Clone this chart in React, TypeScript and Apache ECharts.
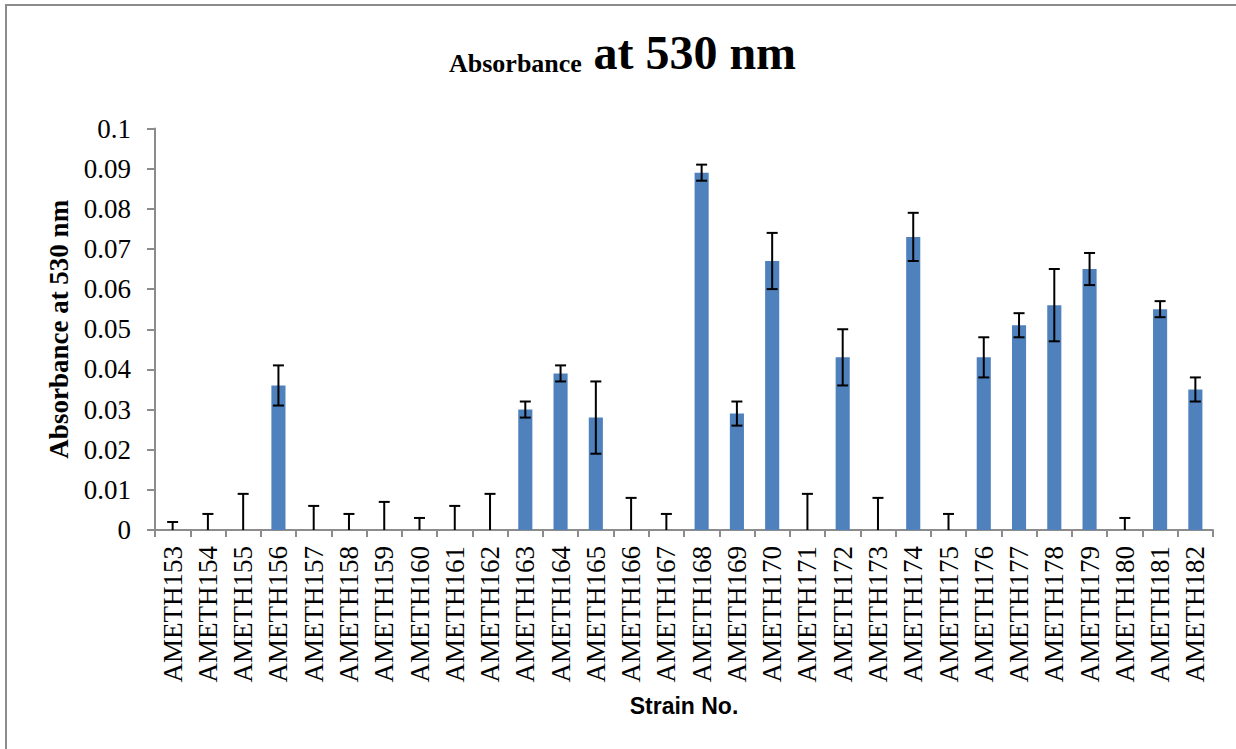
import React, { useEffect, useRef } from "react";
import * as echarts from "echarts";

const strains: string[] = [
  "AMETH153", "AMETH154", "AMETH155", "AMETH156", "AMETH157", "AMETH158",
  "AMETH159", "AMETH160", "AMETH161", "AMETH162", "AMETH163", "AMETH164",
  "AMETH165", "AMETH166", "AMETH167", "AMETH168", "AMETH169", "AMETH170",
  "AMETH171", "AMETH172", "AMETH173", "AMETH174", "AMETH175", "AMETH176",
  "AMETH177", "AMETH178", "AMETH179", "AMETH180", "AMETH181", "AMETH182",
];

const absorbance: number[] = [
  0, 0, 0, 0.036, 0, 0, 0, 0, 0, 0, 0.03, 0.039, 0.028, 0, 0, 0.089,
  0.029, 0.067, 0, 0.043, 0, 0.073, 0, 0.043, 0.051, 0.056, 0.065, 0, 0.055, 0.035,
];

const errors: number[] = [
  0.002, 0.004, 0.009, 0.005, 0.006, 0.004, 0.007, 0.003, 0.006, 0.009,
  0.002, 0.002, 0.009, 0.008, 0.004, 0.002, 0.003, 0.007, 0.009, 0.007,
  0.008, 0.006, 0.004, 0.005, 0.003, 0.009, 0.004, 0.003, 0.002, 0.003,
];

const yTicks = { min: 0, max: 0.1, interval: 0.01 };

const SERIF = "'Liberation Serif', 'Times New Roman', serif";

export default function App() {
  const ref = useRef<HTMLDivElement>(null);

  useEffect(() => {
    if (!ref.current) return;
    const chart = echarts.init(ref.current, undefined, { renderer: "svg" });

    const errData = absorbance.map((v, i) => [i, Math.max(0, v - errors[i]), v + errors[i], v]);

    chart.setOption({
      animation: false,
      backgroundColor: "#ffffff",
      graphic: [
        {
          type: "rect",
          z: -10,
          shape: { x: 6, y: 5, width: 1240, height: 760 },
          style: { fill: "none", stroke: "#8c8c8c", lineWidth: 2 },
        },
      ],
      title: {
        text: "{a|Absorbance}{s| }{b|at 530 nm}",
        left: 444,
        top: 21,
        textStyle: {
          fontFamily: SERIF,
          fontWeight: "bold",
          fontSize: 24,
          color: "#000",
          rich: {
            a: { fontFamily: SERIF, fontWeight: "bold", fontSize: 26, color: "#000", verticalAlign: "bottom", lineHeight: 50 },
            s: { fontFamily: SERIF, fontWeight: "bold", fontSize: 46, color: "#000", verticalAlign: "bottom", lineHeight: 50 },
            b: { fontFamily: SERIF, fontWeight: "bold", fontSize: 48, color: "#000", verticalAlign: "bottom", lineHeight: 50 },
          },
        },
      },
      grid: {
        left: 155,
        right: 23,
        top: 128.5,
        bottom: 219,
        containLabel: false,
        outerBoundsMode: "none",
      },
      xAxis: {
        type: "category",
        data: strains,
        name: "Strain No.",
        nameLocation: "middle",
        nameGap: 164,
        nameTextStyle: {
          fontFamily: "'Liberation Sans', Arial, sans-serif",
          fontWeight: "bold",
          fontSize: 23,
          color: "#000",
        },
        axisLine: { lineStyle: { color: "#8c8c8c", width: 2 } },
        axisTick: { show: true, length: 7, lineStyle: { color: "#8c8c8c", width: 2 } },
        axisLabel: {
          interval: 0,
          rotate: 90,
          margin: 16,
          fontFamily: SERIF,
          fontSize: 27,
          color: "#000",
        },
        splitLine: { show: false },
      },
      yAxis: {
        type: "value",
        min: yTicks.min,
        max: yTicks.max,
        interval: yTicks.interval,
        name: "Absorbance at 530 nm",
        nameLocation: "middle",
        nameGap: 82,
        nameTextStyle: {
          fontFamily: SERIF,
          fontWeight: "bold",
          fontSize: 27,
          color: "#000",
        },
        axisLine: { show: true, lineStyle: { color: "#8c8c8c", width: 2 } },
        axisTick: { show: true, length: 8, lineStyle: { color: "#8c8c8c", width: 2 } },
        axisLabel: {
          margin: 24,
          fontFamily: SERIF,
          fontSize: 27,
          color: "#000",
          formatter: (v: number) => String(parseFloat(v.toFixed(3))),
        },
        splitLine: { show: false },
      },
      series: [
        {
          type: "bar",
          data: absorbance,
          barWidth: "40%",
          itemStyle: { color: "#4f81bd" },
          z: 2,
        },
        {
          type: "custom",
          data: errData,
          z: 5,
          renderItem: (params: any, api: any) => {
            const idx = api.value(0);
            const low = api.value(1);
            const high = api.value(2);
            const pLow = api.coord([idx, low]);
            const pHigh = api.coord([idx, high]);
            const half = 5.5;
            const style = { stroke: "#000", lineWidth: 2 };
            const children: any[] = [
              { type: "line", shape: { x1: pLow[0], y1: pLow[1], x2: pHigh[0], y2: pHigh[1] }, style },
              { type: "line", shape: { x1: pHigh[0] - half, y1: pHigh[1], x2: pHigh[0] + half, y2: pHigh[1] }, style },
            ];
            if (low > 0) {
              children.push({ type: "line", shape: { x1: pLow[0] - half, y1: pLow[1], x2: pLow[0] + half, y2: pLow[1] }, style });
            }
            return { type: "group", children };
          },
        },
      ],
    });

    return () => chart.dispose();
  }, []);

  return (
    <div
      ref={ref}
      style={{ position: "fixed", left: 0, top: 0, width: 1236, height: 749, background: "#fff" }}
    />
  );
}
